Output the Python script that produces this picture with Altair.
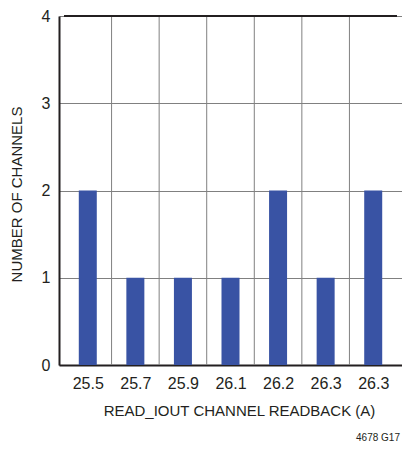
import altair as alt
import pandas as pd

labels = ["25.5", "25.7", "25.9", "26.1", "26.2", "26.3", "26.3"]
counts = [2, 1, 1, 1, 2, 1, 2]
note = ["4678 G17"]

n = len(labels)
df = pd.DataFrame({"pos": [i + 0.5 for i in range(n)], "label": labels, "count": counts})
bounds = pd.DataFrame({"b": list(range(1, n))})
top = pd.DataFrame({"x0": [0], "x1": [n], "y": [4]})
label_expr = "[" + ",".join(f"'{l}'" for l in labels) + "][floor(datum.value)]"

font = "Liberation Sans"
ink = "#231f20"
grid = "#808080"

xscale = alt.Scale(domain=[0, n], nice=False, zero=False)
yscale = alt.Scale(domain=[0, 4], nice=False)

x = alt.X(
    "pos:Q",
    scale=xscale,
    axis=alt.Axis(
        title="READ_IOUT CHANNEL READBACK (A)",
        values=[i + 0.5 for i in range(n)],
        labelExpr=label_expr,
        labelAngle=0,
        grid=False,
        ticks=False,
        domainColor=ink,
        domainWidth=2,
        labelPadding=10,
        labelFontSize=16,
        labelColor=ink,
        titleFontSize=15,
        titleColor=ink,
        titleFontWeight="normal",
        titleX=180,
        titleY=45,
        titleBaseline="middle",
    ),
)
y = alt.Y(
    "count:Q",
    scale=yscale,
    axis=alt.Axis(
        title="NUMBER OF CHANNELS",
        values=[0, 1, 2, 3, 4],
        format="d",
        grid=True,
        gridColor=grid,
        gridWidth=1,
        ticks=False,
        domainColor=ink,
        domainWidth=2,
        labelPadding=9,
        labelFontSize=16,
        labelColor=ink,
        titleFontSize=15,
        titleColor=ink,
        titleFontWeight="normal",
        titleX=-43,
        titleY=178,
        titleAngle=-90,
        titleAlign="center",
        titleBaseline="middle",
    ),
)

vgrid = alt.Chart(bounds).mark_rule(color=grid, strokeWidth=1).encode(
    x=alt.X("b:Q", scale=xscale)
)

bars = alt.Chart(df).mark_bar(size=18, color="#3953a4").encode(x=x, y=y)

topline = alt.Chart(top).mark_rule(color=ink, strokeWidth=2).encode(
    x=alt.X("x0:Q", scale=xscale), x2="x1:Q", y=alt.Y("y:Q", scale=yscale)
)

text = alt.Chart(pd.DataFrame({"t": note})).mark_text(
    align="right", baseline="middle", fontSize=10, font=font, color=ink
).encode(x=alt.value(341), y=alt.value(422), text="t:N")

chart = (
    alt.layer(vgrid, bars, topline, text)
    .properties(
        width=343,
        height=349,
        autosize=alt.AutoSizeParams(type="none"),
        padding={"left": 51, "top": 8, "right": 0, "bottom": 77},
    )
    .configure(font=font)
    .configure_view(strokeWidth=0)
)

chart.save("out.html", embed_options={"renderer": "svg", "actions": False})
